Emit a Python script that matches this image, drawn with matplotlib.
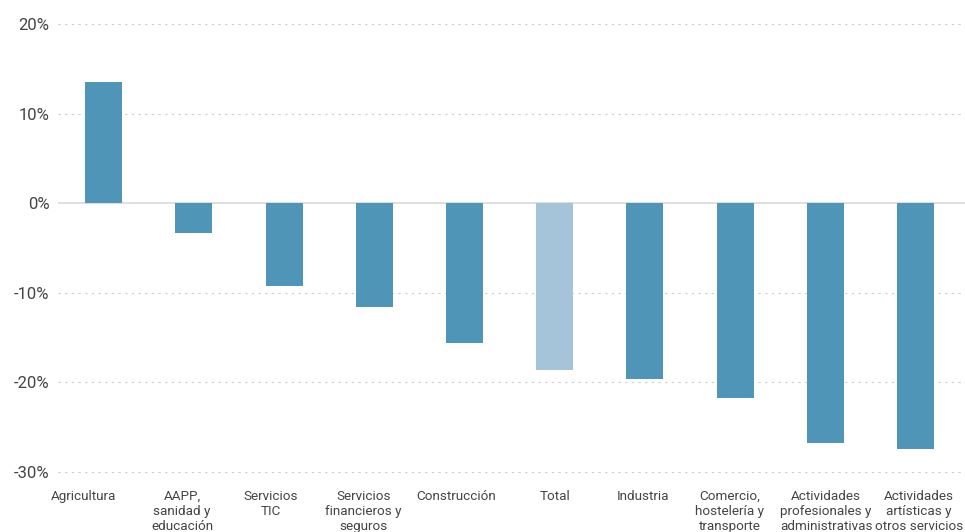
import matplotlib
matplotlib.use("Agg")
import matplotlib.pyplot as plt

plt.rcParams['font.family'] = ['Roboto', 'DejaVu Sans']

# sectors, sorted as in the chart
sectores = [
    "Agricultura",
    "AAPP,\nsanidad y\neducación",
    "Servicios\nTIC",
    "Servicios\nfinancieros y\nseguros",
    "Construcción",
    "Total",
    "Industria",
    "Comercio,\nhostelería y\ntransporte",
    "Actividades\nprofesionales y\nadministrativas",
    "Actividades\nartísticas y\notros servicios",
]
variacion = [13.5, -3.3, -9.2, -11.6, -15.6, -18.6, -19.6, -21.8, -26.8, -27.4]

# the category labels in the original are not quite centred under the bars
desfase_etiqueta = [-0.22, -0.13, -0.15, -0.12, -0.09, 0.0, -0.02, -0.06, 0.01, 0.04]

y_ticks = [-30, -20, -10, 0, 10, 20]
y_labels = ["-30%", "-20%", "-10%", "0%", "10%", "20%"]

azul = "#4f95b8"
azul_claro = "#a6c4d9"
colores = [azul_claro if s == "Total" else azul for s in sectores]

fig = plt.figure(figsize=(9.65, 5.32), dpi=100)
ax = fig.add_axes([58 / 965, 52 / 532, 1 - 58 / 965, (480 - 15) / 532])

x = list(range(len(sectores)))
ax.bar(x, variacion, width=0.41, color=colores, zorder=3)

ax.set_xlim(-0.507, 9.55)
ax.set_ylim(-30.9, 21.0)

ax.set_yticks(y_ticks)
ax.set_yticklabels(y_labels)
ax.set_xticks([i + d for i, d in zip(x, desfase_etiqueta)])
ax.set_xticklabels(sectores, fontsize=9.7, color="#444444", linespacing=1.22, va="top")

for t in y_ticks:
    if t == 0:
        ax.axhline(0, color="#d9d9d9", lw=1.2, zorder=2)
    else:
        ax.axhline(t, color="#cccccc", lw=0.8, ls=(0, (2, 4)), zorder=1)

ax.tick_params(axis='y', length=0, labelsize=12, labelcolor="#444444", pad=6)
ax.tick_params(axis='x', length=0, pad=7)
for s in ax.spines.values():
    s.set_visible(False)

fig.savefig("out.png", dpi=100)
